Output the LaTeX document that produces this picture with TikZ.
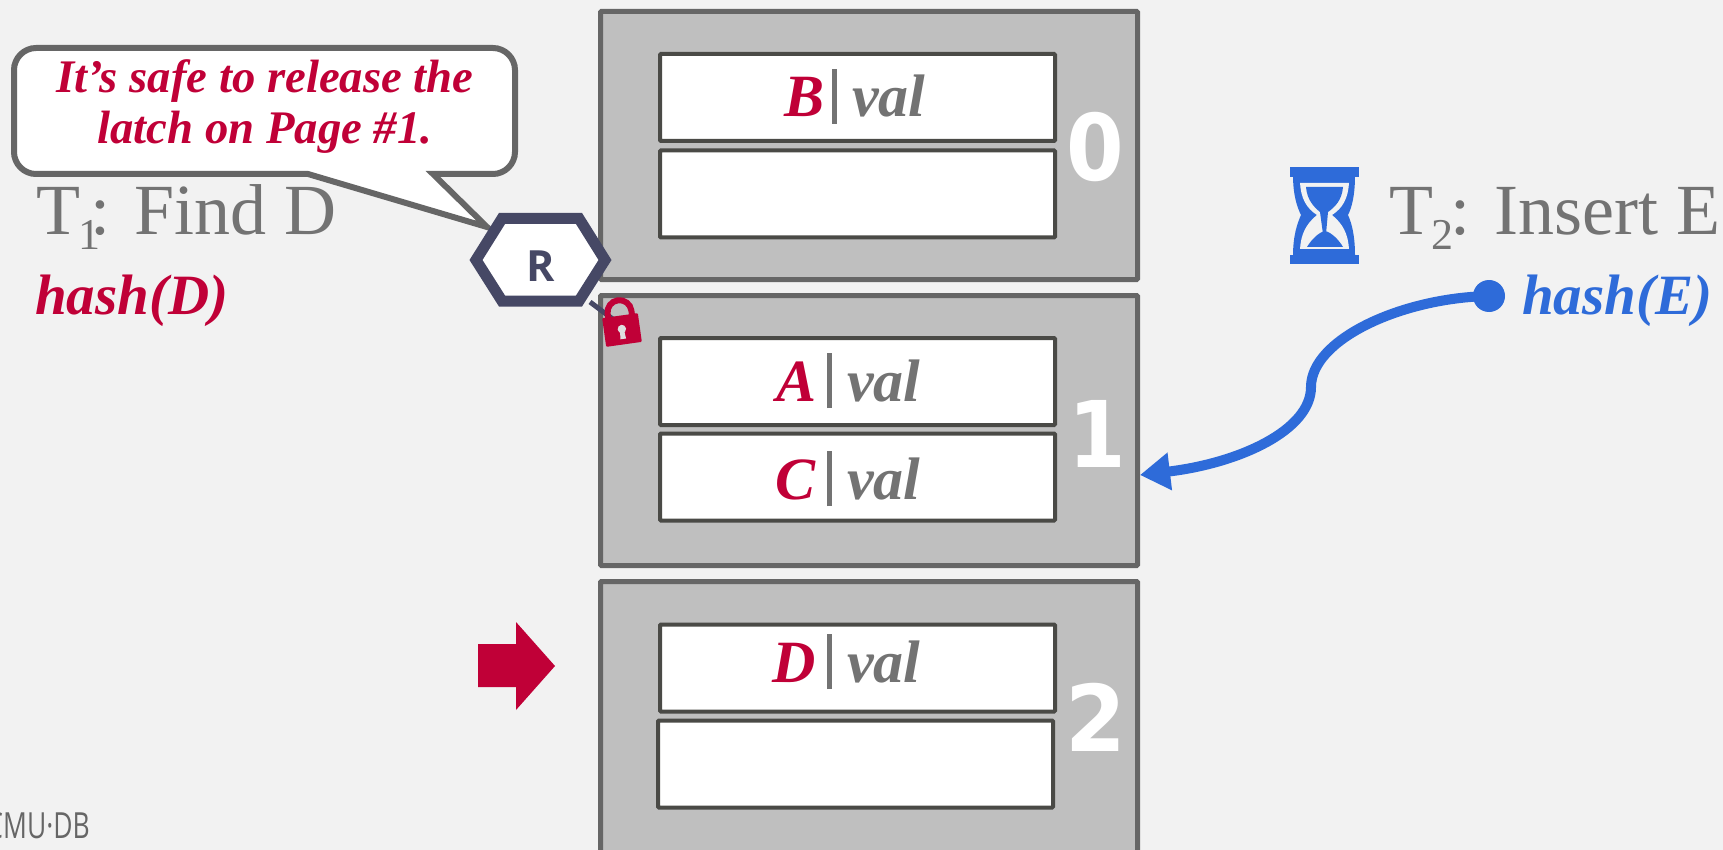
\documentclass[tikz,border=0pt]{standalone}
\usepackage{fontspec}
\setmainfont{Liberation Serif}
\setsansfont{Open Sans}
\newfontfamily\numfont{DejaVu Sans}
\usetikzlibrary{arrows.meta}
\definecolor{bgc}{HTML}{F2F2F2}
\definecolor{pagec}{HTML}{BFBFBF}
\definecolor{edgec}{HTML}{666666}
\definecolor{slotc}{HTML}{4A4A46}
\definecolor{redc}{HTML}{C00037}
\definecolor{bluec}{HTML}{2E6BD9}
\definecolor{greyt}{HTML}{737373}
\definecolor{hexc}{HTML}{464865}
\newcommand{\fs}[1]{\fontsize{#1}{#1}\selectfont}
\newcommand{\kv}[2][11pt]{\llap{\color{redc}\textbf{\textit{#2}}\hspace{#1}}\textcolor{greyt}{\rule[-7pt]{5pt}{55pt}}\hspace{15pt}{\color{greyt}\textbf{\textit{val}}}}
\tikzset{
  x=1pt,y=-1pt,
  pagebox/.style={draw=edgec,fill=pagec,line width=5pt,rounded corners=1pt,minimum width=537pt,anchor=north west,inner sep=0pt},
  slotbox/.style={draw=slotc,fill=white,line width=4pt,rounded corners=1pt,minimum width=395pt,minimum height=87pt,anchor=north west,inner sep=0pt},
  kvtxt/.style={font=\fs{60},inner sep=0pt,anchor=base west},
  pagenum/.style={text=white,font=\numfont\bfseries\fs{92},inner sep=0pt},
  called/.style={text=redc,font=\bfseries\itshape\fs{46.7},inner sep=0pt,anchor=base},
  greytxt/.style={text=greyt,font=\fs{72},inner sep=0pt,anchor=base west},
  hashtxt/.style={font=\bfseries\itshape\fs{57},inner sep=0pt,anchor=base west},
}
\begin{document}
\begin{tikzpicture}
\path[use as bounding box] (0,0) rectangle (1723,850);
\clip (0,0) rectangle (1723,850);
\fill[bgc] (0,0) rectangle (1723,850);
% pages
\node[pagebox,minimum height=268pt] (page0) at (598,9) {};
\node[pagebox,minimum height=270pt] (page1) at (598,293) {};
\node[pagebox,minimum height=300pt] (page2) at (598,579) {};
% slots
\node[slotbox] (s00) at (658,52) {};
\node[slotbox] (s01) at (658,148.5) {};
\node[slotbox] (s10) at (658,336) {};
\node[slotbox] (s11) at (658,431.5) {};
\node[slotbox] (s20) at (658,622.5) {};
\node[slotbox] (s21) at (656,718.5) {};
\node[kvtxt] (k0) at (832,117) {\kv[8pt]{B}};
\node[kvtxt] (k1) at (827,401) {\kv{A}};
\node[kvtxt] (k2) at (827,499) {\kv{C}};
\node[kvtxt] (k3) at (827,682) {\kv{D}};
% numbers
\node[pagenum] (n0) at (1095,147) {\scalebox{0.9}[1]{0}};
\node[pagenum] (n1) at (1097,434) {\scalebox{0.9}[1]{1}};
\node[pagenum] (n2) at (1096,717) {\scalebox{0.95}[1]{2}};
% T1 text
\node[greytxt] (t1) at (36,235) {T\hspace{-2pt}\raisebox{-15pt}{\fs{44}1}\hspace{-10pt}: Find D};
\node[hashtxt,text=redc] (h1) at (35,314) {hash(D)};
% callout
\draw[fill=white,draw=edgec,line width=6pt,line join=miter]
  (433,174) -- (493,174) .. controls (505,174) and (515,164) .. (515,152)
  -- (515,70) .. controls (515,58) and (505,48) .. (493,48)
  -- (36,48) .. controls (24,48) and (14,58) .. (14,70)
  -- (14,152) .. controls (14,164) and (24,174) .. (36,174)
  -- (308,174) -- (487,227) -- cycle;
\node[called] (c1) at (265,93) {It’s safe to release the};
\node[called] (c2) at (265,144) {latch on Page \#1.};
% hexagon connector to lock
\coordinate (lockpt) at (622,326);
\draw[hexc,line width=5pt] (590,302) -- (lockpt);
% hexagon
\draw[hexc,fill=white,line width=11pt,line join=miter] (476,260) -- (502,218.5) -- (579,218.5) -- (605,260) -- (579,301) -- (502,301) -- cycle;
\node[text=hexc,font=\sffamily\bfseries\fs{43},inner sep=0pt] (rl) at (541,266) {R};
% lock
\begin{scope}[shift={(622,330)},rotate=8]
  \draw[redc,line width=6pt] (-12,-10) -- (-12,-18) arc[start angle=180,end angle=0,radius=12,y radius=-12] -- (12,-10);
  \fill[redc,rounded corners=1pt] (-18,-14.5) rectangle (18,14.5);
  \fill[pagec!50!white] (0,-1) circle (4.2);
  \fill[pagec!50!white] (-2,-1) -- (2,-1) -- (2.8,9) -- (-2.8,9) -- cycle;
\end{scope}
% red arrow
\fill[redc] (478,644) -- (516,644) -- (516,622) -- (555,666) -- (516,710) -- (516,687) -- (478,687) -- cycle;
% CMU
\node[text=edgec,font=\sffamily\fs{36},inner sep=0pt,anchor=base east] (cmu) at (90,838) {\scalebox{0.735}[1]{CMU·DB}};
% hourglass
\fill[bluec] (1290,167) rectangle (1359,177);
\fill[bluec] (1290,255) rectangle (1359,264);
\fill[bluec] (1293,175) .. controls (1293,195) and (1297,207) .. (1301,215)
   .. controls (1297,224) and (1293,236) .. (1293,256) -- (1355,256)
   .. controls (1355,236) and (1352,224) .. (1348,215)
   .. controls (1352,207) and (1355,195) .. (1355,175) -- cycle;
\fill[bgc] (1300,183) .. controls (1301,198) and (1306,208) .. (1317,215)
   .. controls (1306,224) and (1301,234) .. (1300,249) -- (1349,249)
   .. controls (1348,234) and (1343,224) .. (1332,215)
   .. controls (1343,208) and (1348,198) .. (1349,183) -- cycle;
\fill[bluec] (1306,187) -- (1343,187) .. controls (1342,200) and (1335,207) .. (1328,212)
   -- (1326,234) -- (1323,234) -- (1320,212) .. controls (1314,207) and (1307,200) .. (1306,187) -- cycle;
\fill[bluec] (1307,247) .. controls (1311,240) and (1319,232) .. (1325,231)
   .. controls (1331,232) and (1339,240) .. (1343,247) -- cycle;
\node[greytxt] (t2) at (1389,235) {T\hspace{-2pt}\raisebox{-15pt}{\fs{44}2}\hspace{-3pt}: Insert E};
\node[hashtxt,text=bluec] (h2) at (1522,314) {hash(E)};
% connector
\node[circle,fill=bluec,minimum size=32pt,inner sep=0pt] (dot) at (1489,296) {};
\coordinate (arrowend) at (1140,475);
\draw[bluec,line width=10pt,-{Triangle[length=30pt,width=36pt]}] (dot.center)
  .. controls (1400,298) and (1311,340) .. (1311,387)
  .. controls (1311,430) and (1240,463) .. (arrowend);
\end{tikzpicture}
\end{document}
